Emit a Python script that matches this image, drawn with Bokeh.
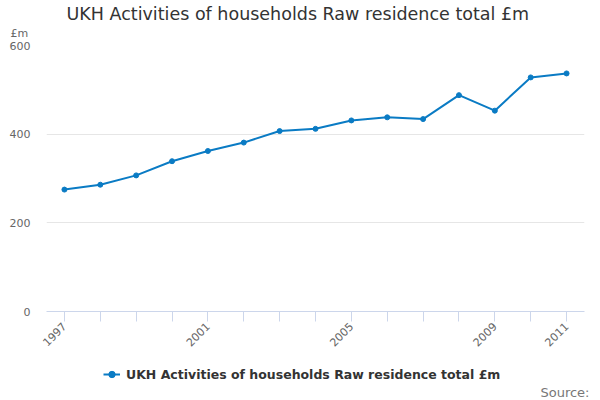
import math
from bokeh.plotting import figure
from bokeh.models import FixedTicker, Legend, LegendItem, Range1d, Title
from bokeh.layouts import column
from bokeh.embed import file_html
from bokeh.resources import INLINE

years = list(range(1997, 2012))
values = [275, 286, 307, 339, 362, 381, 407, 412, 431, 438, 434, 488, 453, 528, 537]
y_ticks = [0, 200, 400, 600]
x_labelled = [1997, 2001, 2005, 2009, 2011]
series_name = "UKH Activities of households Raw residence total £m"
title_text = "UKH Activities of households Raw residence total £m"
unit_text = "£m"
source_text = "Source:"

COLOR = "#0a7bc4"
FONT = "DejaVu Sans"
W = 600
FL, FR = 46, 584  # frame edges in page pixels (frames are aligned in the column)

# ---- main chart (with title and unit above) ----
H1 = 360
p = figure(width=W, height=H1, output_backend="svg", toolbar_location=None,
           x_range=Range1d(1996.5, 2011.5), y_range=Range1d(0, 600),
           min_border_left=FL, min_border_right=W - FR, min_border_top=45,
           min_border_bottom=49)
p.outline_line_color = None
p.background_fill_color = "white"
p.border_fill_color = "white"
p.add_layout(Title(text=unit_text, align="left", offset=10 - FL, text_font=FONT,
                   text_font_size="11px", text_color="#666666", text_font_style="normal",
                   standoff=12), "above")
p.add_layout(Title(text=title_text, align="left", offset=20, text_font=FONT,
                   text_font_size="17.5px", text_color="#333333", text_font_style="normal",
                   standoff=-10), "above")

p.line(years, values, line_color=COLOR, line_width=2)
p.scatter(years, values, size=5, fill_color=COLOR, line_color=COLOR)

xa = p.xaxis[0]
xa.ticker = FixedTicker(ticks=years)
xa.major_label_overrides = {y: (str(y) if y in x_labelled else "") for y in years}
xa.axis_line_color = "#ccd6eb"
xa.major_tick_line_color = "#ccd6eb"
xa.major_tick_in = 0
xa.major_tick_out = 10
xa.minor_tick_line_color = None
xa.major_label_orientation = math.pi / 4
xa.major_label_text_font = FONT
xa.major_label_text_font_size = "11px"
xa.major_label_text_color = "#666666"
xa.major_label_standoff = 3

ya = p.yaxis[0]
ya.ticker = FixedTicker(ticks=y_ticks)
ya.axis_line_color = None
ya.major_tick_line_color = None
ya.minor_tick_line_color = None
ya.major_tick_in = 0
ya.major_tick_out = 0
ya.major_label_text_font = FONT
ya.major_label_text_font_size = "11px"
ya.major_label_text_color = "#666666"
ya.major_label_standoff = 16

p.xgrid.grid_line_color = None
p.ygrid.grid_line_color = "#e6e6e6"

# ---- footer (legend and source) ----
H2 = 40
p2 = figure(width=W, height=H2, output_backend="svg", toolbar_location=None,
            x_range=Range1d(FL, FR), y_range=Range1d(0, H2),
            min_border_left=FL, min_border_right=W - FR,
            min_border_top=0, min_border_bottom=18)
p2.axis.visible = False
p2.grid.visible = False
p2.outline_line_color = None
p2.background_fill_color = "white"
p2.border_fill_color = "white"
# hidden copies of the series: only their legend swatch is shown
g_line = p2.line(years, values, line_color=COLOR, line_width=2, visible=False)
g_pts = p2.scatter(years, values, size=4, fill_color=COLOR, line_color=COLOR, visible=False)
p2.add_layout(Title(text=source_text, align="right", offset=FR - 589, text_font=FONT,
                    text_font_size="13px", text_color="#777777", text_font_style="normal",
                    standoff=0), "below")
legend = Legend(items=[LegendItem(label=series_name, renderers=[g_line, g_pts])],
                orientation="horizontal", location=(103 - FL, 0),
                label_text_font=FONT, label_text_font_size="12.5px",
                label_text_font_style="bold", label_text_color="#333333",
                glyph_width=17, glyph_height=16, label_standoff=6, label_height=16,
                inactive_fill_alpha=0,
                border_line_color=None, background_fill_alpha=0,
                padding=0, margin=0)
p2.add_layout(legend, "center")

layout = column(p, p2, spacing=0)
open("out.html", "w").write(file_html(layout, INLINE))
